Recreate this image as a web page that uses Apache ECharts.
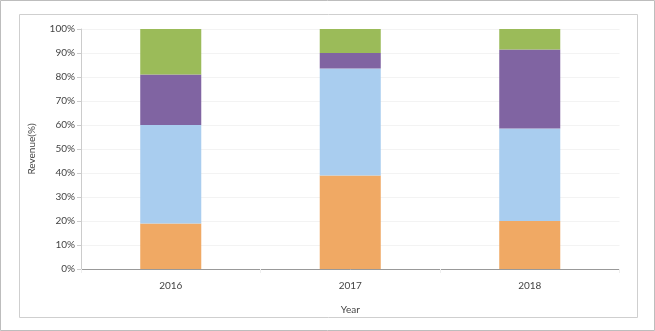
<!DOCTYPE html>
<html><head><meta charset="utf-8">
<script src="https://cdn.jsdelivr.net/npm/echarts@6/dist/echarts.min.js"></script>
<style>html,body{margin:0;padding:0;background:#fff}#c{width:655px;height:331px}</style>
</head><body><div id="c"></div>
<script>
const years = ['2016', '2017', '2018'];
const seriesOrange = [19, 39, 20];
const seriesBlue = [41, 44.5, 38.5];
const seriesPurple = [21, 6.5, 33];
const seriesGreen = [19, 10, 8.5];
const yTicks = [0, 10, 20, 30, 40, 50, 60, 70, 80, 90, 100];

const chart = echarts.init(document.getElementById('c'));
const font = 'Lato, "Open Sans", sans-serif';
function bar(name, data, color) {
  return { name, type: 'bar', stack: 's', data, barWidth: '34%', itemStyle: { color }, emphasis: { disabled: true } };
}
chart.setOption({
  animation: false,
  backgroundColor: '#fff',
  graphic: [
    { type: 'rect', shape: { x: 0.5, y: 0.5, width: 654, height: 330 }, style: { fill: 'none', stroke: '#bdbdbd', lineWidth: 1 }, silent: true },
    { type: 'rect', shape: { x: 19.5, y: 14.5, width: 618, height: 303 }, style: { fill: 'none', stroke: '#cfcfcf', lineWidth: 1 }, silent: true }
  ],
  grid: { left: 81, top: 29, right: 35.5, bottom: 62 },
  xAxis: {
    type: 'category', data: years,
    name: 'Year', nameLocation: 'middle', nameGap: 36,
    nameTextStyle: { fontFamily: font, fontSize: 10, color: '#444' },
    axisLine: { lineStyle: { color: '#999' } },
    axisTick: { show: true, length: 4, lineStyle: { color: '#eee' } },
    axisLabel: { fontFamily: font, fontSize: 10, color: '#444', margin: 12 }
  },
  yAxis: {
    type: 'value', min: 0, max: 100, interval: 10,
    name: 'Revenue(%)', nameLocation: 'middle', nameGap: 44,
    nameTextStyle: { fontFamily: font, fontSize: 10, color: '#444' },
    axisLine: { show: true, lineStyle: { color: '#ccc' } },
    axisTick: { show: true, length: 4, lineStyle: { color: '#ccc' } },
    axisLabel: { fontFamily: font, fontSize: 10, color: '#444', margin: 6, formatter: v => yTicks.includes(v) ? v + '%' : '' },
    splitLine: { lineStyle: { color: '#f3f3f3' } }
  },
  series: [
    bar('A', seriesOrange, '#F0A964'),
    bar('B', seriesBlue, '#A9CDEF'),
    bar('C', seriesPurple, '#8064A2'),
    bar('D', seriesGreen, '#9BBB59')
  ]
});
</script></body></html>
